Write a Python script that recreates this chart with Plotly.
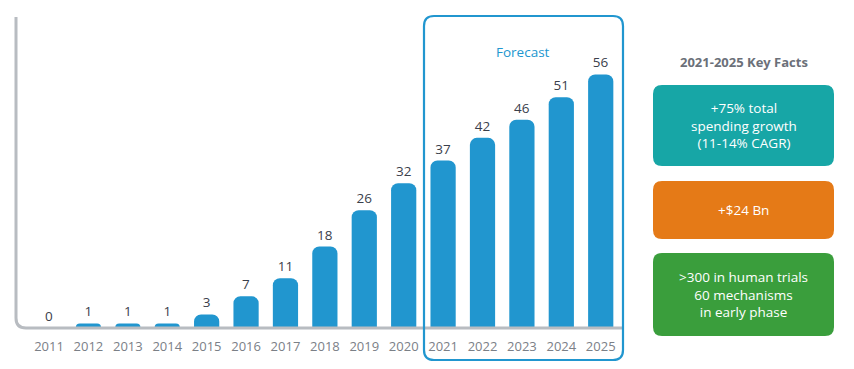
import plotly.graph_objects as go

years = list(range(2011, 2026))
values = [0, 1, 1, 1, 3, 7, 11, 18, 26, 32, 37, 42, 46, 51, 56]
tick_labels = [str(y) for y in years]
facts_title = "2021-2025 Key Facts"
facts = ["+75% total<br>spending growth<br>(11-14% CAGR)", "+$24 Bn",
         ">300 in human trials<br>60 mechanisms<br>in early phase"]
fact_colors = ["#17a6a6", "#e57a17", "#3a9e3c"]

W, H = 854, 369
L, R, T, B = 16, 232, 17, 41
PW, PH = W - L - R, H - T - B
BAR = "#2196cf"

def px2paper(x, y):
    return (x - L) / PW, (H - B - y) / PH

def p(x, y):
    a, b = px2paper(x, y)
    return f"{a:.5f},{b:.5f}"

def rrect(x0, y0, x1, y1, r):
    return (f"M {p(x0 + r, y0)} L {p(x1 - r, y0)} Q {p(x1, y0)} {p(x1, y0 + r)} "
            f"L {p(x1, y1 - r)} Q {p(x1, y1)} {p(x1 - r, y1)} L {p(x0 + r, y1)} "
            f"Q {p(x0, y1)} {p(x0, y1 - r)} L {p(x0, y0 + r)} Q {p(x0, y0)} {p(x0 + r, y0)} Z")

fig = go.Figure(go.Bar(
    x=years, y=values, width=0.64,
    marker=dict(color=BAR, cornerradius=7, line=dict(width=0)),
    text=[str(v) for v in values], textposition="outside",
    textfont=dict(size=13.5, color="#3a404b", family="Open Sans"),
    cliponaxis=False,
))

shapes = []
shapes.append(dict(type="path", xref="paper", yref="paper",
                   path=f"M {p(16,17)} L {p(16,318)} Q {p(16,328)} {p(26,328)} L {p(624,328)}",
                   line=dict(color="#b8bcc1", width=3)))
shapes.append(dict(type="path", xref="paper", yref="paper",
                   path=rrect(424, 16, 623, 360, 10),
                   line=dict(color=BAR, width=2.2), layer="above"))
boxes = [(85, 166), (181, 239), (253, 336)]

def ann(x, y, text, size, color):
    return dict(x=px2paper(x, 0)[0], y=px2paper(0, y)[1], xref="paper", yref="paper",
                xanchor="center", yanchor="middle", text=text, showarrow=False,
                font=dict(size=size, color=color, family="Open Sans"))

annotations = [
    ann(523, 52, "Forecast", 13.5, BAR),
    ann(744, 62, f"<b>{facts_title}</b>", 13, "#6b7079"),
]
for (y0, y1), txt, col in zip(boxes, facts, fact_colors):
    shapes.append(dict(type="path", xref="paper", yref="paper",
                       path=rrect(653, y0, 834, y1, 9), fillcolor=col, line=dict(width=0)))
    annotations.append(ann(743.5, (y0 + y1) / 2, txt, 13.5, "white"))

fig.update_layout(
    width=W, height=H, margin=dict(l=L, r=R, t=T, b=B),
    paper_bgcolor="white", plot_bgcolor="white", showlegend=False,
    xaxis=dict(range=[2010.162, 2025.54], tickmode="array", tickvals=years, ticktext=tick_labels,
               showgrid=False, zeroline=False, showline=False, ticks="outside", ticklen=6,
               tickcolor="rgba(0,0,0,0)", tickfont=dict(size=13, color="#7b8087", family="Open Sans")),
    yaxis=dict(range=[0, 68.7], visible=False, showgrid=False, zeroline=False),
    shapes=shapes, annotations=annotations,
    font=dict(family="Open Sans"),
)
fig.write_html("out.html", config={"displayModeBar": False},
               post_script="document.body.style.margin='0px';document.body.style.padding='0px';")
